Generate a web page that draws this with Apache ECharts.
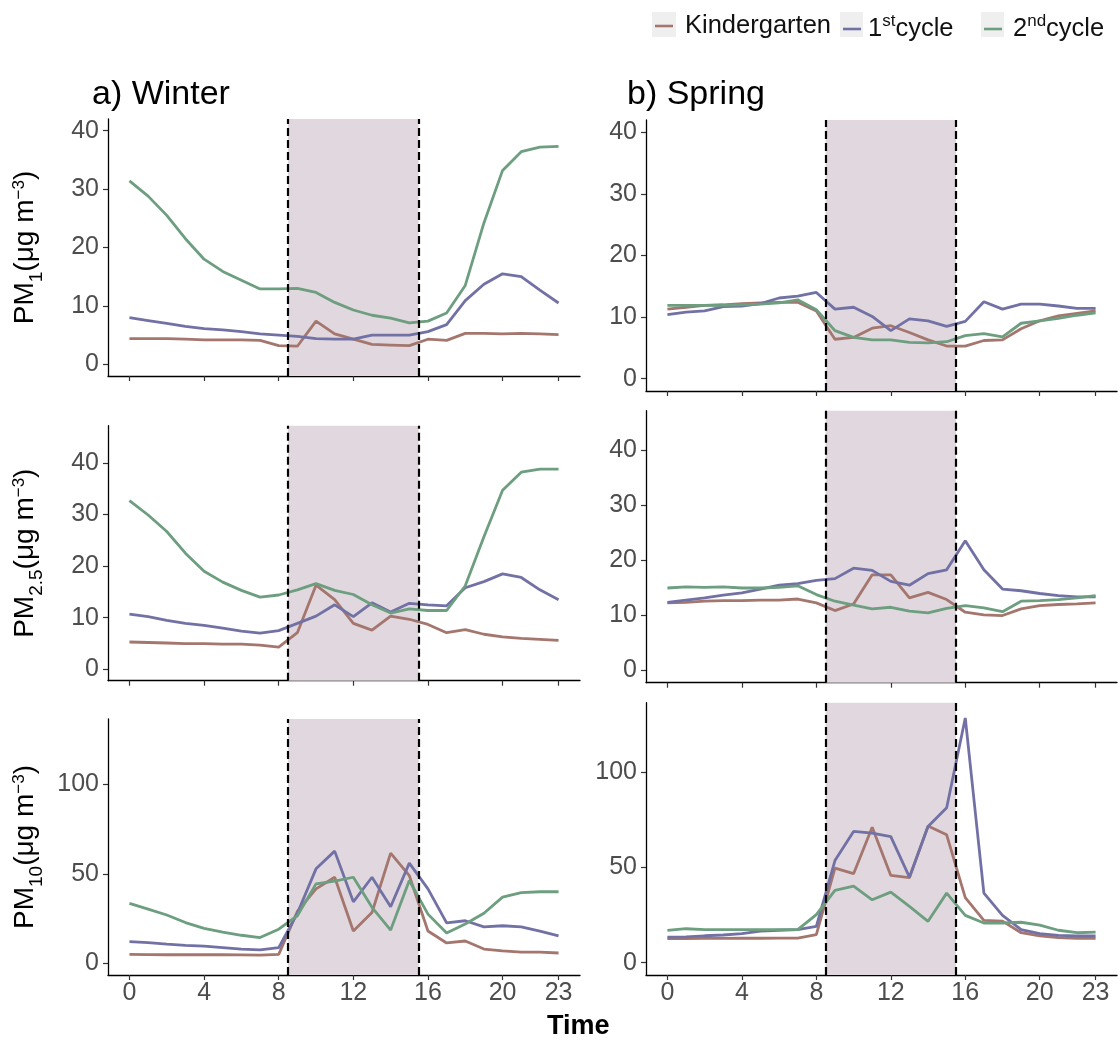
<!DOCTYPE html>
<html>
<head>
<meta charset="utf-8">
<script src="https://cdn.jsdelivr.net/npm/echarts@6/dist/echarts.min.js"></script>
<style>
html,body{margin:0;padding:0;background:#fff;}
#chart{width:1120px;height:1041px;}
</style>
</head>
<body>
<div id="chart"></div>
<script>
// ---------------- data ----------------
const hours = [0,1,2,3,4,5,6,7,8,9,10,11,12,13,14,15,16,17,18,19,20,21,22,23];
const xTicks = [0,4,8,12,16,20,23];
const schoolHours = [8.5, 15.5];
const seriesNames = ['Kindergarten', '1st cycle', '2nd cycle'];

const yTicksPM1 = [0,10,20,30,40];
const yTicksPM25 = [0,10,20,30,40];
const yTicksPM10 = [0,50,100];
const yRangePM1 = [-2, 42];
const yRangePM25 = [-2.2, 47.2];
const yRangePM10 = [-6.5, 136.5];

// Winter PM1
const winterPM1_kinder = [4.4,4.4,4.4,4.3,4.2,4.2,4.2,4.1,3.2,3.1,7.4,5.2,4.3,3.4,3.3,3.2,4.3,4.1,5.3,5.3,5.2,5.3,5.2,5.1];
const winterPM1_cycle1 = [8.0,7.5,7.0,6.5,6.1,5.9,5.6,5.2,5.0,4.8,4.4,4.3,4.3,5.0,5.0,5.0,5.6,6.8,10.9,13.7,15.5,15.0,12.7,10.5];
const winterPM1_cycle2 = [31.4,28.8,25.5,21.5,18.0,15.9,14.4,12.9,12.9,13.0,12.3,10.6,9.3,8.4,7.9,7.1,7.4,8.8,13.5,24.2,33.2,36.4,37.2,37.3];
// Spring PM1
const springPM1_kinder = [11.3,11.6,11.9,12.0,12.2,12.3,12.4,12.4,11.0,6.4,6.7,8.2,8.6,7.5,6.3,5.3,5.3,6.2,6.3,8.1,9.4,10.2,10.6,11.0];
const springPM1_cycle1 = [10.4,10.8,11.0,11.7,11.8,12.2,13.1,13.4,14.0,11.3,11.6,10.1,7.8,9.7,9.4,8.5,9.3,12.5,11.3,12.1,12.1,11.8,11.4,11.4];
const springPM1_cycle2 = [11.9,11.9,11.9,11.9,12.0,12.1,12.3,12.8,11.2,7.8,6.7,6.3,6.3,5.9,5.8,6.0,7.0,7.3,6.8,9.0,9.4,9.8,10.3,10.7];
// Winter PM2.5
const winterPM25_kinder = [5.3,5.2,5.1,5.0,5.0,4.9,4.9,4.7,4.3,7.1,16.3,13.5,8.9,7.6,10.3,9.7,8.7,7.1,7.7,6.8,6.3,6.0,5.8,5.6];
const winterPM25_cycle1 = [10.7,10.2,9.5,8.9,8.5,8.0,7.4,7.0,7.5,8.9,10.3,12.5,10.2,12.9,11.1,12.8,12.5,12.3,15.8,17.0,18.5,17.8,15.4,13.5];
const winterPM25_cycle2 = [32.7,29.9,26.7,22.5,19.0,16.9,15.3,14.0,14.4,15.4,16.6,15.3,14.5,12.5,10.9,11.7,11.4,11.4,16.2,25.7,34.7,38.2,38.8,38.8];
// Spring PM2.5
const springPM25_kinder = [12.3,12.4,12.6,12.7,12.7,12.8,12.8,13.0,12.3,10.9,12.1,17.4,17.4,13.2,14.2,12.9,10.6,10.1,10.0,11.2,11.8,12.0,12.1,12.3];
const springPM25_cycle1 = [12.4,12.8,13.2,13.7,14.1,14.8,15.5,15.8,16.4,16.7,18.6,18.2,16.2,15.5,17.6,18.3,23.6,18.3,14.8,14.5,14.0,13.6,13.4,13.4];
const springPM25_cycle2 = [15.0,15.2,15.1,15.2,15.0,15.0,15.1,15.4,13.8,12.6,11.9,11.2,11.5,10.8,10.5,11.3,11.8,11.4,10.7,12.6,12.7,12.9,13.2,13.6];
// Winter PM10
const winterPM10_kinder = [5.0,4.9,4.8,4.8,4.8,4.8,4.7,4.6,5.0,29.0,41.6,48.1,18.1,28.4,61.6,49.0,18.1,11.4,12.5,8.0,7.0,6.3,6.3,5.8];
const winterPM10_cycle1 = [12.1,11.6,10.7,10.1,9.6,8.8,8.0,7.5,8.8,28.0,52.8,62.7,34.4,48.1,31.6,56.0,41.6,22.6,23.8,20.4,21.0,20.4,18.0,15.4];
const winterPM10_cycle2 = [33.5,30.3,27.0,22.8,19.5,17.4,15.7,14.4,19.1,26.6,44.4,45.9,48.1,31.3,18.6,46.3,27.5,17.0,22.0,28.0,37.0,39.5,40.0,40.0];
// Spring PM10
const springPM10_kinder = [12.6,12.6,12.7,12.7,12.8,12.8,12.9,12.9,14.7,49.6,46.7,71.1,45.8,44.6,71.8,67.1,34.1,22.2,21.8,15.7,14.0,13.1,12.7,12.7];
const springPM10_cycle1 = [13.4,13.5,14.1,14.5,15.2,16.6,17.0,17.3,19.0,53.6,68.9,68.0,66.2,44.9,71.5,81.3,128.5,36.5,24.8,17.3,15.2,14.3,14.0,14.0];
const springPM10_cycle2 = [16.9,17.8,17.3,17.3,17.3,17.3,17.3,17.3,25.2,37.9,40.2,33.0,37.0,29.5,21.7,36.5,24.8,20.8,20.8,21.2,19.7,17.0,15.7,16.0];

// ---------------- styling / layout ----------------
const FONT = '"Liberation Sans", Arial, Helvetica, sans-serif';
const colors = ['#A4766E', '#7271A5', '#6C9E7F'];
const shadeColor = '#E0D8DE';

const panels = [
  {grid:{left:108, top:119, width:472, height:257}, range:yRangePM1, ticks:yTicksPM1, data:[winterPM1_kinder,winterPM1_cycle1,winterPM1_cycle2], name:'{m|PM}{sb|1}{m|(μg m}{sp|−3}{m|)}', xLabels:false},
  {grid:{left:646, top:120, width:471, height:271}, range:yRangePM1, ticks:yTicksPM1, data:[springPM1_kinder,springPM1_cycle1,springPM1_cycle2], name:'', xLabels:false},
  {grid:{left:108, top:425.7, width:472, height:255}, range:yRangePM25, ticks:yTicksPM25, data:[winterPM25_kinder,winterPM25_cycle1,winterPM25_cycle2], name:'{m|PM}{sb|2.5}{m|(μg m}{sp|−3}{m|)}', xLabels:false},
  {grid:{left:646, top:410.7, width:471, height:272}, range:yRangePM25, ticks:yTicksPM25, data:[springPM25_kinder,springPM25_cycle1,springPM25_cycle2], name:'', xLabels:false},
  {grid:{left:108, top:719, width:472, height:256}, range:yRangePM10, ticks:yTicksPM10, data:[winterPM10_kinder,winterPM10_cycle1,winterPM10_cycle2], name:'{m|PM}{sb|10}{m|(μg m}{sp|−3}{m|)}', xLabels:true},
  {grid:{left:646, top:702.7, width:471, height:272.3}, range:yRangePM10, ticks:yTicksPM10, data:[springPM10_kinder,springPM10_cycle1,springPM10_cycle2], name:'', xLabels:true}
];

const axisLineStyle = {color:'#000', width:1.3};
const tickStyle = {color:'#333', width:1.2};
const labelStyle = {fontSize:25, color:'#4D4D4D', fontFamily:FONT};

const grids = [], xAxes = [], yAxes = [], series = [];
panels.forEach((p, i) => {
  grids.push(Object.assign({containLabel:false}, p.grid));
  xAxes.push({
    type:'value', gridIndex:i, min:-1.15, max:24.15,
    axisLine:{show:true, onZero:false, lineStyle:axisLineStyle},
    axisTick:{show:true, length:5, lineStyle:tickStyle, customValues:xTicks},
    axisLabel:Object.assign({show:p.xLabels, margin:6, customValues:xTicks}, labelStyle),
    splitLine:{show:false}
  });
  yAxes.push({
    type:'value', gridIndex:i, min:p.range[0], max:p.range[1],
    axisLine:{show:true, onZero:false, lineStyle:axisLineStyle},
    axisTick:{show:true, length:5, lineStyle:tickStyle, customValues:p.ticks},
    axisLabel:Object.assign({margin:9, customValues:p.ticks}, labelStyle),
    splitLine:{show:false},
    name:p.name, nameLocation:'middle', nameRotate:90, nameGap:62,
    nameTextStyle:{
      fontFamily:FONT, color:'#000', fontSize:28,
      rich:{
        m:{fontFamily:FONT, color:'#000', fontSize:28, padding:[8,0,0,0], verticalAlign:'top'},
        sb:{fontFamily:FONT, color:'#000', fontSize:19, padding:[24,0,0,0], verticalAlign:'top'},
        sp:{fontFamily:FONT, color:'#000', fontSize:17, padding:[8,0,0,0], verticalAlign:'top'}
      }
    }
  });
  p.data.forEach((vals, k) => {
    const s = {
      type:'line', name:seriesNames[k], xAxisIndex:i, yAxisIndex:i,
      data:hours.map((h, j) => [h, vals[j]]),
      symbol:'none', color:colors[k], z:3,
      lineStyle:{color:colors[k], width:2.8},
      silent:true
    };
    if (k === 0) {
      s.markArea = {silent:true, itemStyle:{color:shadeColor, opacity:1}, data:[[{xAxis:schoolHours[0]}, {xAxis:schoolHours[1]}]]};
      s.markLine = {silent:true, symbol:'none', label:{show:false},
        lineStyle:{color:'#000', type:[8,4], width:2.2},
        data:schoolHours.map(v => ({xAxis:v}))};
    }
    series.push(s);
  });
});

const legendRich = {
  n:{fontFamily:FONT, color:'#111', fontSize:25.5, padding:[6,0,6,0], verticalAlign:'top'},
  s:{fontFamily:FONT, color:'#111', fontSize:17, padding:[3,0,0,0], verticalAlign:'top'}
};
function legendFmt(name){
  if (name === '1st cycle') return '{n|1}{s|st}{n|cycle}';
  if (name === '2nd cycle') return '{n|2}{s|nd}{n|cycle}';
  return '{n|' + name + '}';
}
function makeLegend(name, left, padLeft){
  return {
    data:[{name:name, icon:'rect'}], left:left, top:13, padding:0,
    itemWidth:18, itemHeight:2.6, selectedMode:false, formatter:legendFmt,
    textStyle:{fontFamily:FONT, fontSize:25.5, color:'#111', padding:[0,0,0,padLeft], rich:legendRich}
  };
}

const option = {
  animation:false,
  backgroundColor:'#fff',
  textStyle:{fontFamily:FONT},
  title:[
    {text:'a) Winter', left:92, top:78, padding:0, textStyle:{fontFamily:FONT, fontSize:34, fontWeight:'normal', color:'#000'}},
    {text:'b) Spring', left:627, top:78, padding:0, textStyle:{fontFamily:FONT, fontSize:34, fontWeight:'normal', color:'#000'}},
    {text:'Time', left:547, top:1013, padding:0, textStyle:{fontFamily:FONT, fontSize:27, fontWeight:'bold', color:'#000'}}
  ],
  legend:[makeLegend('Kindergarten', 655, 7), makeLegend('1st cycle', 843, 2), makeLegend('2nd cycle', 984, 6)],
  graphic:[
    {type:'rect', left:652, top:12, shape:{width:24, height:25}, style:{fill:'#EFEFEF'}, z:-1, silent:true},
    {type:'rect', left:840, top:12, shape:{width:23, height:25}, style:{fill:'#EFEFEF'}, z:-1, silent:true},
    {type:'rect', left:981, top:12, shape:{width:23, height:25}, style:{fill:'#EFEFEF'}, z:-1, silent:true}
  ],
  grid:grids, xAxis:xAxes, yAxis:yAxes, series:series
};

const chart = echarts.init(document.getElementById('chart'), null, {renderer:'canvas'});
chart.setOption(option);
</script>
</body>
</html>
